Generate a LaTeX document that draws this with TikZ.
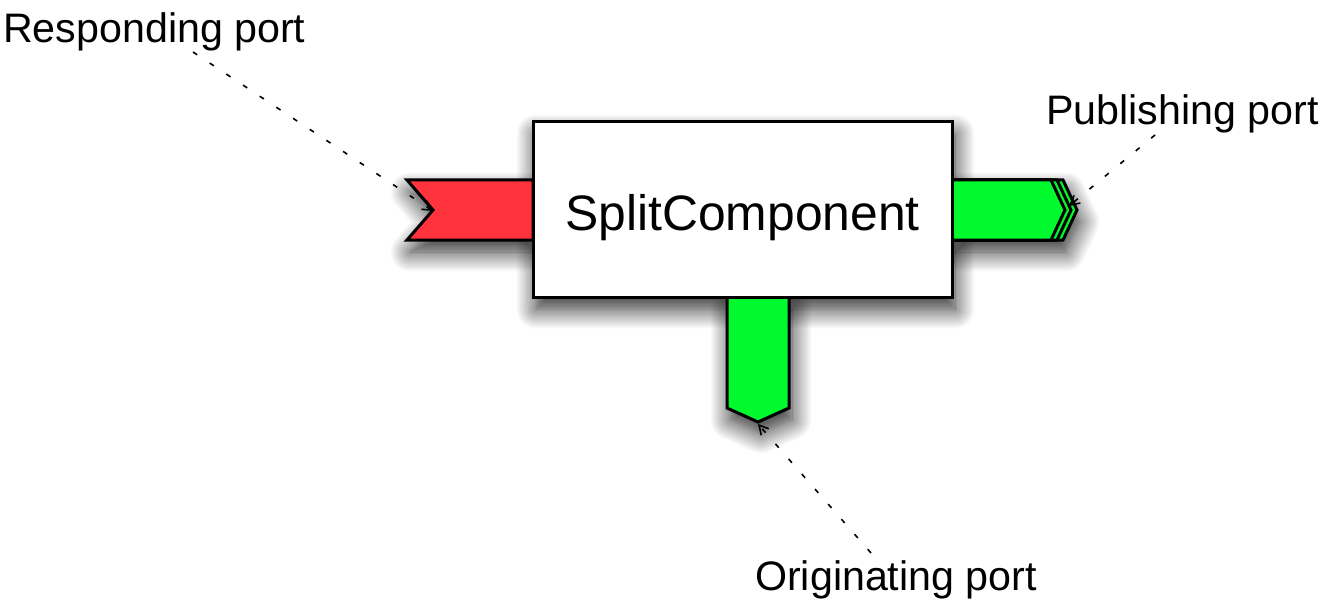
\documentclass[tikz,border=0pt]{standalone}
\usepackage{fontspec}
\setmainfont{Liberation Sans}
\usetikzlibrary{shadows.blur,arrows.meta}
\definecolor{portred}{RGB}{255,51,60}
\definecolor{portgreen}{RGB}{0,250,45}
\begin{document}
\begin{tikzpicture}[x=1pt,y=-1pt,
  shapeline/.style={draw=black,line width=3pt,line join=miter},
  sh/.style={blur shadow={shadow xshift=3pt,shadow yshift=-12pt,shadow blur radius=20pt,shadow opacity=85,shadow blur steps=16}},
  lbl/.style={font=\fontsize{41.2}{48}\selectfont,inner sep=0pt,anchor=base west},
  pointer/.style={dash pattern=on 5pt off 15pt,line width=1.6pt,-{Straight Barb[length=9pt,width=10pt]}}
]
\useasboundingbox (0,0) rectangle (1324,604);
% shadows
\path[sh] (407,180)--(533,180)--(533,240)--(407,240)--(433,210)--cycle;
\path[sh] (952,180)--(1063,180)--(1077,210)--(1063,240)--(952,240)--cycle;
\path[sh] (727,297)--(727,408)--(758,422)--(789,408)--(789,297)--cycle;
\path[sh] (533,122) rectangle (952,297);
% ports
\draw[shapeline,fill=portred] (407,180)--(533,180)--(533,240)--(407,240)--(433,210)--cycle;
\draw[shapeline,fill=portgreen] (952,180)--(1063,180)--(1077,210)--(1063,240)--(952,240)--cycle;
\draw[shapeline,fill=portgreen] (952,180)--(1057,180)--(1071,210)--(1057,240)--(952,240)--cycle;
\draw[shapeline,fill=portgreen] (952,180)--(1051,180)--(1065,210)--(1051,240)--(952,240)--cycle;
\draw[shapeline,fill=portgreen] (727,297)--(727,408)--(758,422)--(789,408)--(789,297)--cycle;
% component
\node[shapeline,fill=white,minimum width=419pt,minimum height=175pt,inner sep=0pt,
  text height=41pt,text depth=0pt,font=\fontsize{49.8}{58}\selectfont] (box) at (742.5,209.5) {SplitComponent};
% labels
\node[lbl] (rl) at (3,43) {Responding port};
\node[lbl] (pl) at (1046,125) {Publishing port};
\node[lbl] (ol) at (755,590) {Originating port};
\coordinate (rs) at (193,52);
\coordinate (ps) at (1155,135);
\coordinate (os) at (871,553);
\coordinate (rtip) at (433,211);
\coordinate (ptip) at (1069,206);
\coordinate (otip) at (758,424);
\draw[pointer] (rs) -- (rtip);
\draw[pointer] (ps) -- (ptip);
\draw[pointer] (os) -- (otip);
\end{tikzpicture}
\end{document}
